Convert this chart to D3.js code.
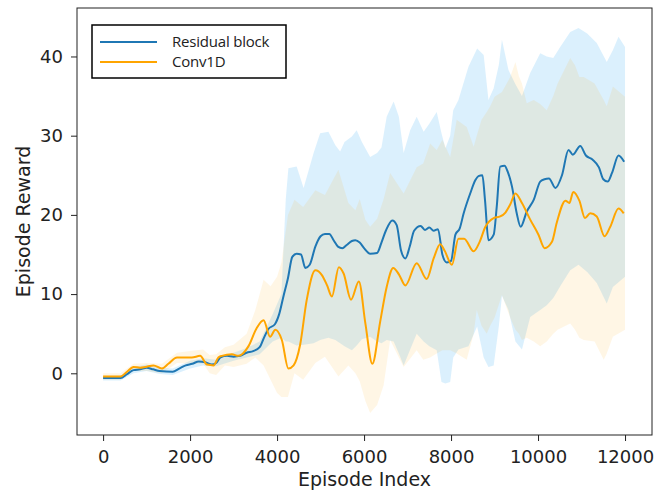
<!DOCTYPE html>
<html>
<head>
<meta charset="utf-8">
<script src="https://cdn.jsdelivr.net/npm/d3@7"></script>
<style>
    body { margin: 0; background: #fff; }
    svg text { font-family: "DejaVu Sans", sans-serif; fill: #222; }
</style>
</head>
<body>
<div id="chart"></div>
<script>
// mean curves
const blueEp = [0,200,400,550,700,850,1000,1150,1300,1600,1750,1900,2050,2200,2350,2500,2600,2700,2850,3000,3150,3300,3450,3600,3700,3800,3950,4050,4150,4250,4350,4450,4550,4650,4750,4880,5000,5100,5200,5300,5400,5500,5600,5720,5800,5900,6000,6140,6300,6400,6500,6650,6750,6850,6950,7050,7150,7300,7400,7500,7600,7700,7800,7900,8000,8100,8200,8290,8440,8560,8630,8720,8780,8860,8980,9050,9130,9230,9300,9400,9510,9600,9740,9900,10050,10150,10250,10400,10550,10700,10800,10970,11100,11250,11400,11500,11600,11700,11850,11980];
const blueMean = [-0.6,-0.6,-0.6,-0.1,0.4,0.5,0.7,0.5,0.3,0.2,0.6,1.0,1.2,1.5,1.4,1.1,1.3,2.0,2.2,2.1,2.2,2.6,2.8,3.3,4.5,5.6,6.2,7.5,9.8,12.0,14.7,15.1,15.0,13.3,13.7,16.0,17.3,17.6,17.6,16.8,16.0,15.8,16.2,16.7,16.8,16.5,15.8,15.1,15.2,16.5,18.0,19.3,18.7,15.5,14.5,16.0,18.0,18.6,18.1,18.4,18.0,18.2,15.0,14.0,14.2,17.5,18.3,20.2,22.7,24.4,24.9,25.0,21.9,16.8,17.5,21.0,26.1,26.2,25.5,23.6,20.2,18.5,20.4,21.9,24.2,24.5,24.6,23.4,25.0,28.2,27.6,28.7,27.5,27.0,26.0,24.5,24.2,25.3,27.5,26.7];

const orangeEp = [0,200,400,550,700,850,970,1160,1350,1500,1700,1900,2040,2230,2390,2540,2650,2730,2960,3110,3340,3530,3690,3840,3960,4110,4260,4380,4530,4680,4880,5030,5150,5260,5420,5530,5700,5880,6030,6190,6370,6520,6670,6800,6950,7210,7440,7600,7750,7850,8020,8170,8300,8520,8650,8790,8980,9130,9250,9360,9480,9630,9820,10010,10150,10320,10430,10630,10720,10810,10950,11080,11200,11350,11530,11660,11850,11970];
const orangeMean = [-0.4,-0.4,-0.4,0.2,0.8,0.7,0.8,1.0,0.6,1.2,2.0,2.0,2.0,2.2,1.1,1.0,2.0,2.2,2.4,2.2,3.4,5.7,6.7,4.6,5.5,4.2,0.6,1.0,3.6,9.2,13.0,12.4,11.1,9.7,13.4,12.6,9.3,11.6,6.3,1.2,6.5,10.9,13.3,12.5,11.1,13.9,11.9,14.5,16.3,15.5,13.7,17.0,17.0,15.4,16.5,18.5,19.6,19.8,20.3,21.3,22.7,21.5,19.4,17.5,15.8,16.6,19.0,21.8,21.5,22.9,21.8,19.6,20.2,19.8,17.3,18.5,20.8,20.2];

// shaded spreads
const blueBandEp = [0,400,700,1000,1300,1600,2000,2300,2600,3000,3300,3600,3900,4100,4200,4260,4450,4610,4840,4990,5180,5340,5450,5550,5720,5830,5950,6140,6300,6400,6520,6680,6800,6910,7060,7210,7370,7500,7670,7780,7870,7980,8050,8170,8400,8600,8750,8860,8980,9100,9170,9320,9480,9630,9820,10050,10200,10350,10510,10740,10930,11130,11350,11580,11720,11850,12000];
const blueUpper = [-0.3,-0.3,0.8,1.1,0.7,0.6,1.6,1.9,1.7,2.6,3.2,4.0,7.5,10,22,25.9,26.1,23.4,27.8,30.3,30.5,28.8,28.0,29.2,29.9,30.7,29.2,27.3,27.8,28.5,32.4,34.3,32.4,27.8,30.7,32.4,30.5,31.5,33.0,30.3,28.4,30.0,33.2,34.5,38.7,41.0,40.2,34.5,36.0,39.0,42.1,38.3,36.5,35.0,37.9,40.4,40.0,39.8,41.2,43.1,43.6,42.9,41.7,39.3,40.8,42.5,41.2];
const blueLower = [-0.9,-0.9,0.0,0.3,-0.1,-0.2,0.6,1.0,0.9,1.6,2.0,2.4,4.0,4.5,4.0,4.0,3.5,3.6,3.8,4.2,4.5,4.2,3.8,3.4,2.9,3.5,4.3,4.6,4.0,3.8,4.2,4.0,2.5,1.0,3.0,5.0,4.0,3.4,2.9,-1.1,-1.3,-1.1,2.0,3.0,3.4,5.9,2.0,0.8,1.0,6.0,9.8,8.0,4.0,3.0,7.1,8.0,8.6,9.5,11.0,13.0,13.7,12.8,11.4,8.8,10.9,11.5,12.2];

const orangeBandEp = [0,400,700,1000,1350,1700,2000,2300,2450,2600,2800,3000,3300,3500,3690,3850,4000,4100,4250,4400,4600,4880,5100,5410,5640,5800,5900,6030,6140,6300,6450,6600,6910,7210,7360,7520,7670,7800,7980,8130,8360,8520,8590,8700,8820,8900,9000,9170,9360,9480,9560,9630,9740,9900,10050,10200,10350,10450,10740,10850,10950,11050,11300,11510,11580,11720,12000];
const orangeUpper = [0.0,0.0,1.2,1.3,1.2,2.6,2.8,3.0,2.3,2.4,3.3,3.6,5.0,8.0,11.8,11.0,12.2,14.0,20.0,21.9,21.0,23.1,22.5,25.7,21.5,20.6,22.0,19.4,18.5,19.5,22.0,25.3,22.7,26.0,26.5,29.0,28.2,29.5,27.3,32.0,31.1,28.6,30.0,32.0,33.0,33.7,34.9,35.5,37.4,39.3,37.5,36.6,34.1,34.5,34.0,33.2,35.0,36.6,39.8,38.9,37.4,37.4,36.6,34.5,33.7,36.2,34.9];
const orangeLower = [-0.8,-0.8,0.3,0.3,0.0,1.3,1.2,1.2,0.0,-0.2,1.0,0.8,1.2,2.0,1.0,-0.8,-2.5,-3.0,-3.0,0.0,-0.8,1.3,2.1,-0.4,1.0,0.0,-1.0,-3.5,-5.0,-4.0,-1.5,4.2,0.8,2.9,1.7,2.0,2.5,2.9,2.9,2.5,1.7,5.0,8.0,6.0,5.0,6.0,7.0,9.9,7.0,5.5,5.0,4.2,4.5,4.0,3.4,4.0,5.0,5.5,6.3,5.5,4.5,4.2,4.0,1.7,2.5,4.6,5.5];

const xTicks = [0, 2000, 4000, 6000, 8000, 10000, 12000];
const yTicks = [0, 10, 20, 30, 40];
const seriesNames = ["Residual block", "Conv1D"];

const width = 657, height = 496;
const margin = { top: 8, right: 5, bottom: 61, left: 77 };

const svg = d3.select("#chart")
    .append("svg")
    .attr("width", width)
    .attr("height", height);

const x = d3.scaleLinear()
    .domain([-600, 12620])
    .range([margin.left, width - margin.right]);

const y = d3.scaleLinear()
    .domain([-7.79, 46.12])
    .range([height - margin.bottom, margin.top]);

const zip = (ep, a, b) => ep.map((e, i) => ({ ep: e, lo: a[i], hi: b ? b[i] : null }));

const area = d3.area()
    .x(d => x(d.ep))
    .y0(d => y(d.lo))
    .y1(d => y(d.hi));

const line = d3.line()
    .x(d => x(d.ep))
    .y(d => y(d.lo))
    .curve(d3.curveMonotoneX);

svg.append("path")
    .datum(zip(blueBandEp, blueLower, blueUpper))
    .attr("d", area)
    .attr("fill", "#87cefa")
    .attr("fill-opacity", 0.3);

svg.append("path")
    .datum(zip(orangeBandEp, orangeLower, orangeUpper))
    .attr("d", area)
    .attr("fill", "#ffa500")
    .attr("fill-opacity", 0.1);

svg.append("path")
    .datum(zip(blueEp, blueMean))
    .attr("d", line)
    .attr("fill", "none")
    .attr("stroke", "#1f77b4")
    .attr("stroke-width", 2);

svg.append("path")
    .datum(zip(orangeEp, orangeMean))
    .attr("d", line)
    .attr("fill", "none")
    .attr("stroke", "#ffa500")
    .attr("stroke-width", 2);

// axes
const xAxis = svg.append("g")
    .attr("transform", `translate(0,${height - margin.bottom})`)
    .call(d3.axisBottom(x).tickValues(xTicks).tickSize(6).tickPadding(9).tickFormat(d3.format("d")));

const yAxis = svg.append("g")
    .attr("transform", `translate(${margin.left},0)`)
    .call(d3.axisLeft(y).tickValues(yTicks).tickSize(6).tickPadding(8));

[xAxis, yAxis].forEach(g => {
    g.select(".domain").remove();
    g.selectAll(".tick line").attr("stroke", "#222");
    g.selectAll(".tick text")
        .style("font-family", "DejaVu Sans")
        .style("font-size", "18px")
        .attr("fill", "#222");
});

svg.append("rect")
    .attr("x", margin.left)
    .attr("y", margin.top)
    .attr("width", width - margin.left - margin.right)
    .attr("height", height - margin.top - margin.bottom)
    .attr("fill", "none")
    .attr("stroke", "#222")
    .attr("stroke-width", 1);

svg.append("text")
    .attr("x", (margin.left + width - margin.right) / 2)
    .attr("y", 486)
    .attr("text-anchor", "middle")
    .style("font-size", "19px")
    .text("Episode Index");

svg.append("text")
    .attr("transform", `translate(23,${(margin.top + height - margin.bottom) / 2}) rotate(-90)`)
    .attr("text-anchor", "middle")
    .attr("dy", "0.35em")
    .style("font-size", "19px")
    .text("Episode Reward");

// legend
const legend = svg.append("g");
legend.append("rect")
    .attr("x", 92).attr("y", 25)
    .attr("width", 194).attr("height", 53)
    .attr("fill", "#fff")
    .attr("stroke", "#000")
    .attr("stroke-width", 1.5);

const legendColors = ["#1f77b4", "#ffa500"];
seriesNames.forEach((name, i) => {
    const ly = 42 + i * 20;
    legend.append("line")
        .attr("x1", 100).attr("x2", 157)
        .attr("y1", ly).attr("y2", ly)
        .attr("stroke", legendColors[i])
        .attr("stroke-width", 2);
    legend.append("text")
        .attr("x", 172)
        .attr("y", ly)
        .attr("dy", "0.35em")
        .style("font-family", "'Open Sans', sans-serif")
        .style("font-size", "15px")
        .style("letter-spacing", "-0.2px")
        .attr("fill", "#111")
        .text(name);
});
</script>
</body>
</html>
